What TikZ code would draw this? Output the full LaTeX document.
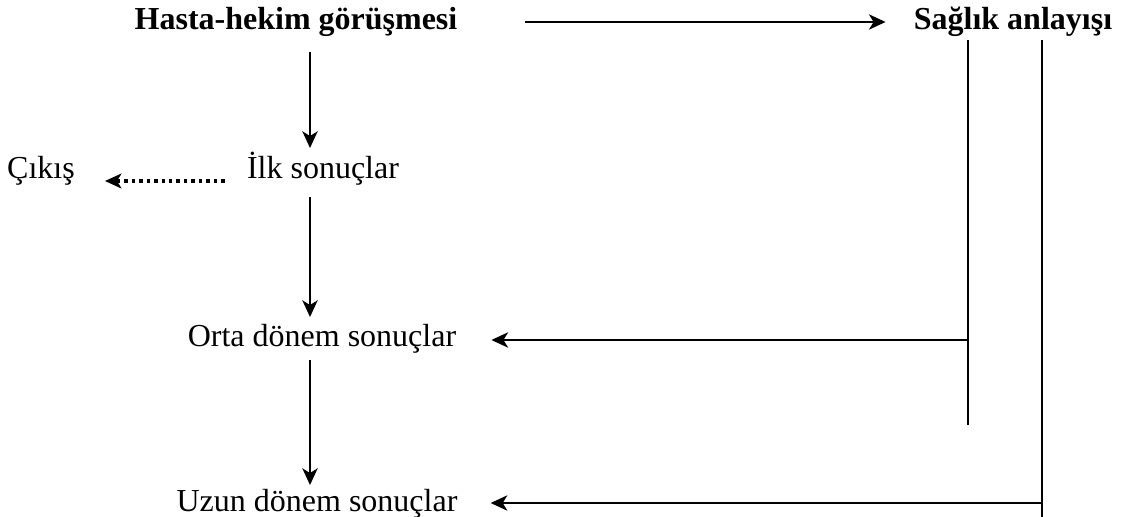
\documentclass[tikz,border=0pt]{standalone}
\usepackage{fontspec}
\setmainfont{Liberation Serif}
\usetikzlibrary{arrows.meta,calc}
\begin{document}
\begin{tikzpicture}[x=0.75pt,y=-0.75pt,
  lbl/.style={inner sep=0pt, anchor=base, font=\fontsize{24pt}{28pt}\selectfont},
  blbl/.style={lbl, font=\fontsize{24pt}{28pt}\selectfont\bfseries},
  tip/.style={-{Stealth[length=12.5pt,width=11.5pt,inset=3.5pt]}},
  arr/.style={line width=1.4pt, tip},
  plain/.style={line width=1.4pt},
  dots/.style={line width=2.6pt, dash pattern=on 2.6pt off 3pt,
    -{Stealth[length=12.5pt,width=11.5pt,inset=3.5pt,line width=0pt]}}]
\useasboundingbox (0,0) rectangle (1121,517);
% nodes
\node[blbl] (hasta) at (296,30) {Hasta-hekim görüşmesi};
\node[blbl] (sag) at (1013,30) {Sağlık anlayışı};
\node[lbl] (ilk) at (323,178) {İlk sonuçlar};
\node[lbl] (cikis) at (41,178) {Çıkış};
\node[lbl] (orta) at (322,346) {Orta dönem sonuçlar};
\node[lbl] (uzun) at (317,511) {Uzun dönem sonuçlar};
% helper coordinates
\coordinate (col) at (310,0);
\coordinate (v1top) at (968,40);
\coordinate (v1bot) at (968,425);
\coordinate (v2top) at (1042,40);
\coordinate (v2bot) at (1042,517);
% connectors
\draw[arr] ($(hasta.base east)+(67,-8)$) -- ($(sag.base west)+(-28,-8)$);
\draw[arr] ($(hasta.base -| col)+(0,22)$) -- ($(ilk.base -| col)+(0,-30)$);
\draw[arr] ($(ilk.base -| col)+(0,19)$) -- ($(orta.base -| col)+(0,-29)$);
\draw[arr] ($(orta.base -| col)+(0,14)$) -- ($(uzun.base -| col)+(0,-26)$);
\draw[dots] ($(ilk.base west)+(-22,3)$) -- ($(cikis.base east)+(30,3)$);
\draw[plain] (v1top) -- (v1bot);
\draw[plain] (v2top) -- (v2bot);
\draw[arr] ($(v1top |- orta.base)+(0,-6)$) -- ($(orta.base east)+(35,-6)$);
\draw[arr] ($(v2top |- uzun.base)+(0,-8)$) -- ($(uzun.base east)+(33,-8)$);
\end{tikzpicture}
\end{document}
